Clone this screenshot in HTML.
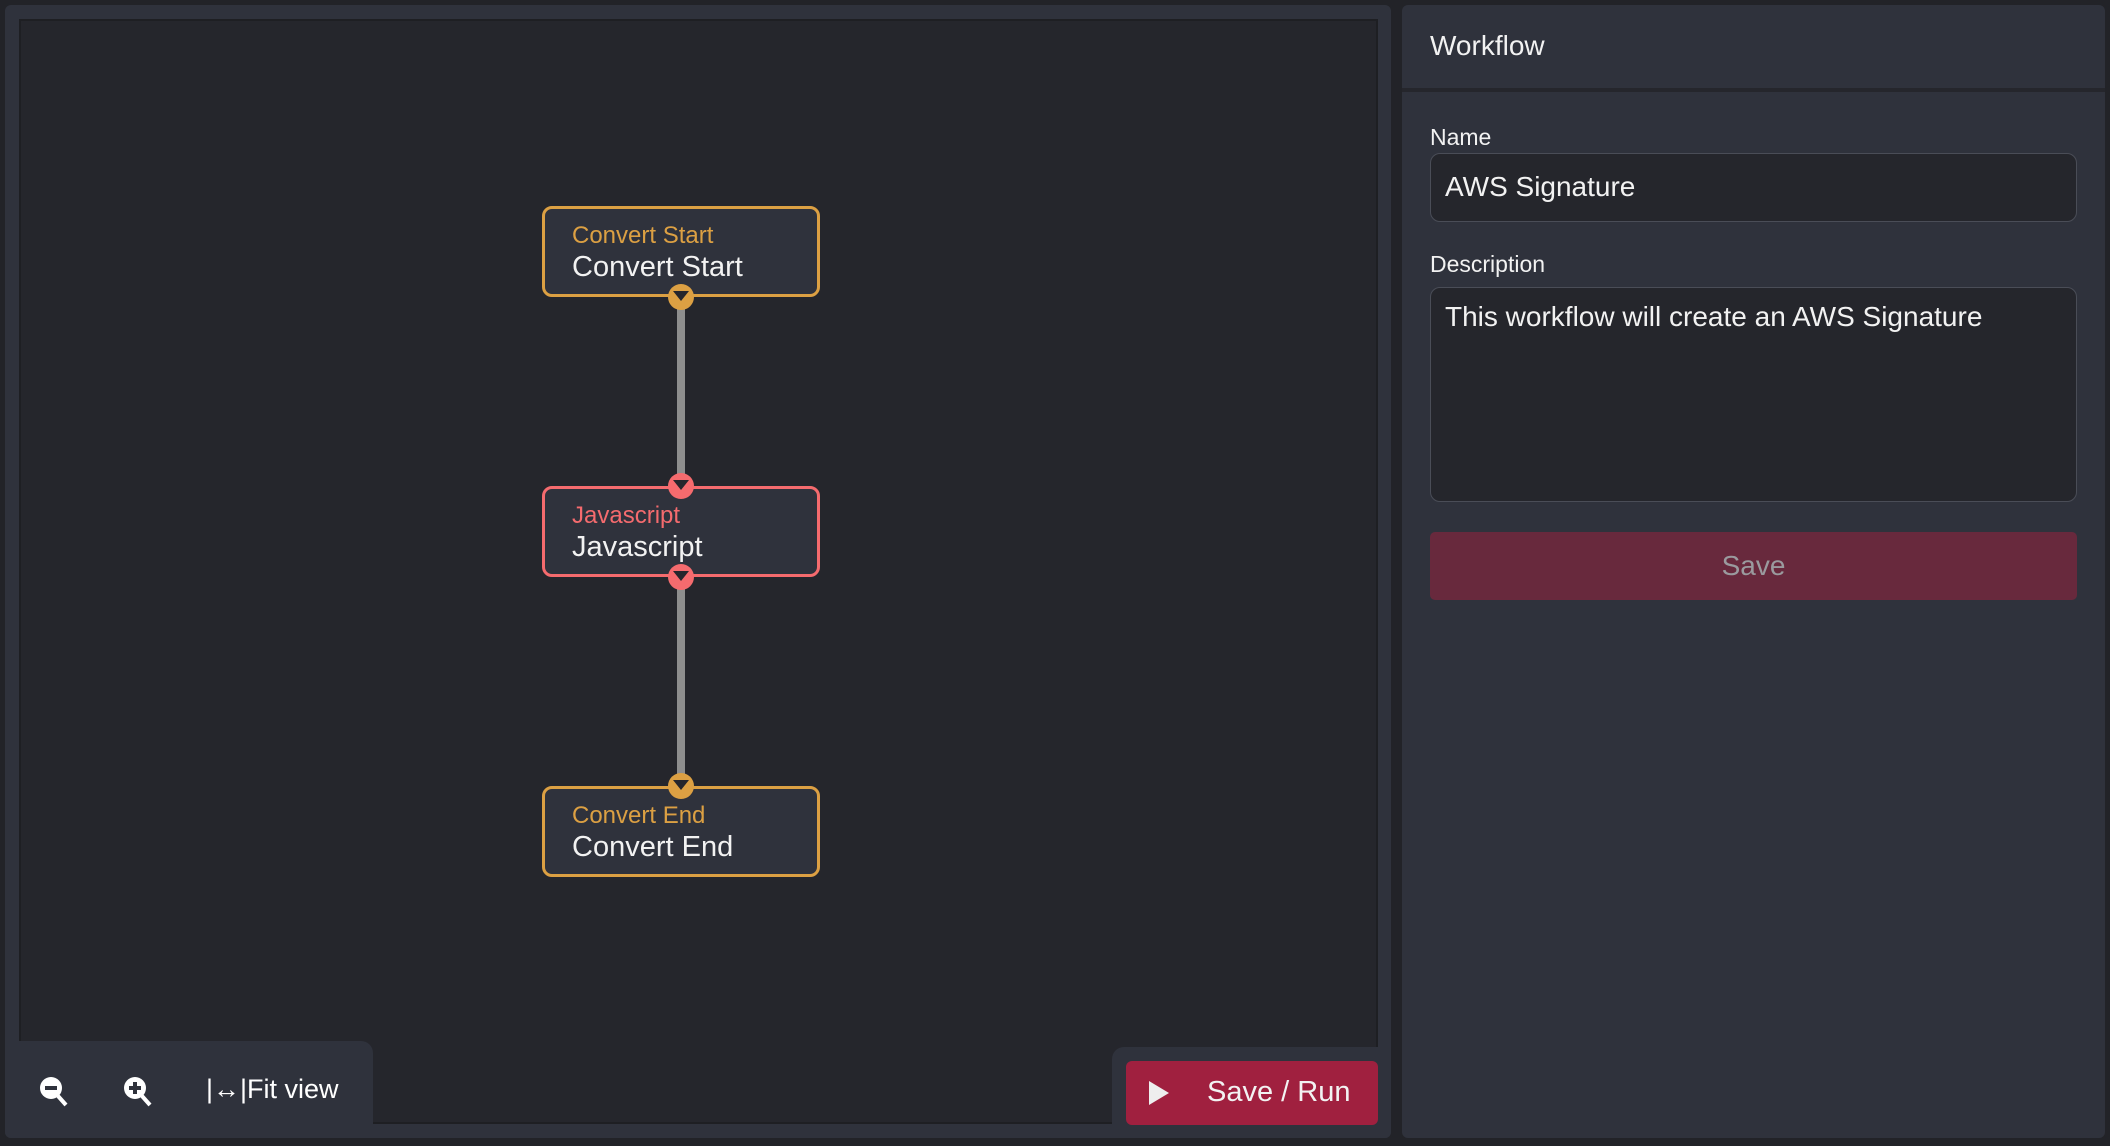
<!DOCTYPE html>
<html><head><meta charset="utf-8"><style>
*{box-sizing:border-box;margin:0;padding:0}
body{width:2110px;height:1146px;background:#222328;position:relative;overflow:hidden;font-family:"Liberation Sans",Arial,sans-serif}
.a{position:absolute}
.node{position:absolute;left:542px;width:278px;height:91px;border:3px solid;border-radius:10px;background:#2f323c}
.node .t{position:absolute;left:27px;top:13px;font-size:24px}
.node .s{position:absolute;left:27px;top:42px;font-size:29px;color:#f2f2f2}
.port{position:absolute;left:668px;width:26px;height:26px;border-radius:50%}
.port:after{content:"";position:absolute;left:5px;top:7px;border-left:8px solid transparent;border-right:8px solid transparent;border-top:10px solid #25262c}
</style></head><body>
<div class="a" style="left:5px;top:5px;width:1386px;height:1133px;background:#2f323c;border-radius:6px"></div>
<div class="a" style="left:19px;top:19px;width:1359px;height:1105px;background:#25262c;border:2px solid #1e1f23"></div>
<div class="a" style="left:677px;top:297px;width:8px;height:190px;background:#8e8e8e"></div>
<div class="a" style="left:677px;top:577px;width:8px;height:210px;background:#8e8e8e"></div>
<div class="node" style="top:206px;border-color:#dca043"><div class="t" style="color:#dca043">Convert Start</div><div class="s">Convert Start</div></div>
<div class="node" style="top:486px;border-color:#f56b6e"><div class="t" style="color:#f56b6e">Javascript</div><div class="s">Javascript</div></div>
<div class="node" style="top:786px;border-color:#dca043"><div class="t" style="color:#dca043">Convert End</div><div class="s">Convert End</div></div>
<div class="port" style="top:284px;background:#dca043"></div>
<div class="port" style="top:473px;background:#f56b6e"></div>
<div class="port" style="top:564px;background:#f56b6e"></div>
<div class="port" style="top:773px;background:#dca043"></div>
<div class="a" style="left:5px;top:1041px;width:368px;height:97px;background:#2f323c;border-radius:0 12px 0 6px"></div>
<svg class="a" style="left:38px;top:1075px" width="32" height="34" viewBox="0 0 32 34"><circle cx="13" cy="13" r="11" fill="#fff"/><rect x="7" y="11" width="12" height="4" fill="#2f323c"/><line x1="20" y1="21" x2="28" y2="30" stroke="#fff" stroke-width="4"/></svg>
<svg class="a" style="left:122px;top:1075px" width="32" height="34" viewBox="0 0 32 34"><circle cx="13" cy="13" r="11" fill="#fff"/><rect x="7" y="11" width="12" height="4" fill="#2f323c"/><rect x="11" y="7" width="4" height="12" fill="#2f323c"/><line x1="20" y1="21" x2="28" y2="30" stroke="#fff" stroke-width="4"/></svg>
<div class="a" style="left:206px;top:1074px;font-size:27px;color:#fff">|↔|Fit view</div>
<div class="a" style="left:1112px;top:1047px;width:279px;height:91px;background:#2f323c;border-radius:12px 0 6px 0"></div>
<div class="a" style="left:1126px;top:1061px;width:252px;height:64px;background:#a0203f;border-radius:6px"></div>
<svg class="a" style="left:1147px;top:1079px" width="24" height="28"><polygon points="2,2 22,14 2,26" fill="#eee"/></svg>
<div class="a" style="left:1207px;top:1076px;font-size:29px;color:#f2f2f2">Save / Run</div>
<div class="a" style="left:1402px;top:5px;width:703px;height:1133px;background:#2f323c;border-radius:6px"></div>
<div class="a" style="left:1402px;top:88px;width:703px;height:4px;background:#25262c"></div>
<div class="a" style="left:1430px;top:30px;font-size:28px;color:#f2f2f2">Workflow</div>
<div class="a" style="left:1430px;top:124px;font-size:23px;color:#f2f2f2">Name</div>
<div class="a" style="left:1430px;top:153px;width:647px;height:69px;background:#25262c;border:1px solid #4a4d57;border-radius:10px"></div>
<div class="a" style="left:1445px;top:171px;font-size:28px;color:#f2f2f2">AWS Signature</div>
<div class="a" style="left:1430px;top:251px;font-size:23px;color:#f2f2f2">Description</div>
<div class="a" style="left:1430px;top:287px;width:647px;height:215px;background:#25262c;border:1px solid #4a4d57;border-radius:10px"></div>
<div class="a" style="left:1445px;top:301px;font-size:28px;color:#f2f2f2">This workflow will create an AWS Signature</div>
<div class="a" style="left:1430px;top:532px;width:647px;height:68px;background:#68293d;border-radius:5px;text-align:center;line-height:68px;font-size:28px;color:#9a9a9e">Save</div>
</body></html>
